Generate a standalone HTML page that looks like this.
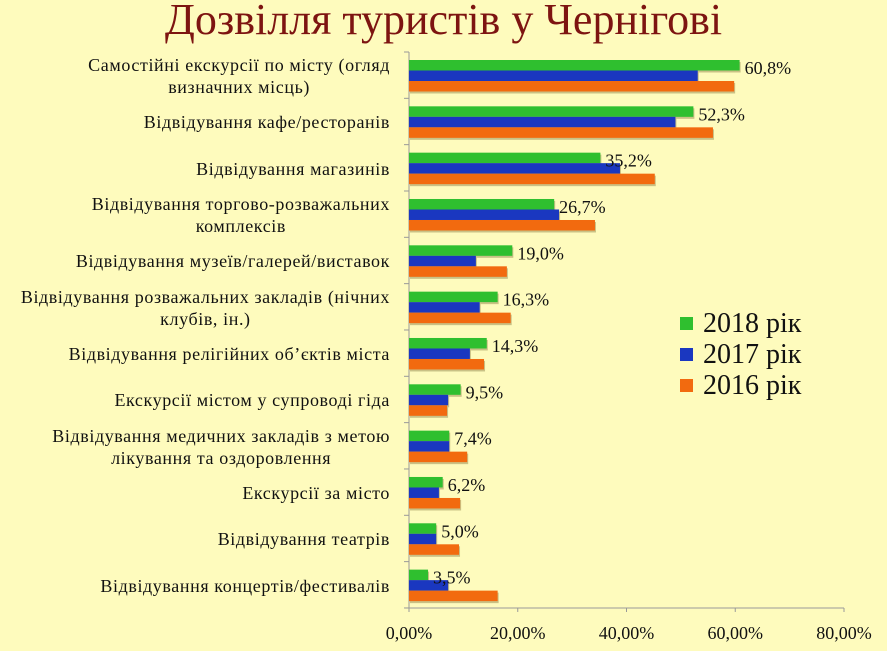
<!DOCTYPE html>
<html><head><meta charset="utf-8"><style>
body{margin:0;background:#fdfabb;}
#wrap{position:relative;width:887px;height:651px;overflow:hidden;background:#fefbbd;font-family:"Liberation Serif",serif;}
#title{position:absolute;left:0;width:887px;top:-6px;text-align:center;font-size:44px;color:#7d1411;white-space:nowrap;}
.lab{position:absolute;right:497px;display:flex;align-items:center;justify-content:flex-end;height:46px;}
.lab span{display:inline-block;text-align:center;font-size:18px;line-height:22px;color:#111;white-space:nowrap;letter-spacing:0.6px;}
#legend{position:absolute;left:680px;top:308px;font-size:28px;color:#111;}
.li{display:flex;align-items:center;height:31px;}
.sw{width:13px;height:13px;margin-right:10px;}
svg{position:absolute;left:0;top:0;}
</style></head><body>
<div id="wrap">
<div id="title">Дозвілля туристів у Чернігові</div>
<svg id="svg" width="887" height="651"></svg>
<div id="legend">
<div class="li"><div class="sw" style="background:#2fbf2f"></div>2018 рік</div>
<div class="li"><div class="sw" style="background:#1a37c0"></div>2017 рік</div>
<div class="li"><div class="sw" style="background:#f26a0f"></div>2016 рік</div>
</div>
</div>
<script>
const categories=["Самостійні екскурсії по місту (огляд<br>визначних місць)","Відвідування кафе/ресторанів","Відвідування магазинів","Відвідування торгово-розважальних<br>комплексів","Відвідування музеїв/галерей/виставок","Відвідування розважальних закладів (нічних<br>клубів, ін.)","Відвідування релігійних об’єктів міста","Екскурсії містом у супроводі гіда","Відвідування медичних закладів з метою<br>лікування та оздоровлення","Екскурсії за місто","Відвідування театрів","Відвідування концертів/фестивалів"];
const s2018=[60.8,52.3,35.2,26.7,19.0,16.3,14.3,9.5,7.4,6.2,5.0,3.5];
const s2017=[53.1,49.0,38.8,27.6,12.3,13.0,11.2,7.2,7.4,5.5,5.0,7.2];
const s2016=[59.8,55.9,45.2,34.2,18.0,18.7,13.8,7.0,10.7,9.4,9.2,16.3];
const labels2018=["60,8%","52,3%","35,2%","26,7%","19,0%","16,3%","14,3%","9,5%","7,4%","6,2%","5,0%","3,5%"];
const ticks=[0,20,40,60,80];
const tickLabels=["0,00%","20,00%","40,00%","60,00%","80,00%"];
const X0=409,X1=844,MAX=80,Y0=52,BAND=46.33;
const x=v=>X0+(v/MAX)*(X1-X0);
const yb=i=>Y0+i*BAND;
const NS="http://www.w3.org/2000/svg";
const svg=document.getElementById('svg');
function mk(t,a){const e=document.createElementNS(NS,t);for(const k in a)e.setAttribute(k,a[k]);svg.appendChild(e);return e;}
let ax=mk('line',{x1:X0,y1:Y0,x2:X0,y2:yb(12),stroke:'#999','stroke-width':1});


let xa=mk('line',{x1:X0-4,y1:yb(12),x2:X1,y2:yb(12),stroke:'#999','stroke-width':1});


for(let i=0;i<=12;i++){const t=mk('line',{x1:X0-5,x2:X0,y1:yb(i),y2:yb(i),stroke:'#999'});

}
ticks.forEach((v,i)=>{const t=mk('line',{x1:x(v),x2:x(v),y1:yb(12),y2:yb(12)+4,stroke:'#999'});


const tx=mk('text',{x:x(v),y:639,'text-anchor':'middle','font-size':18,'font-family':'Liberation Serif, serif',fill:'#111'});tx.textContent=tickLabels[i];

});
const series=[[s2018,'#2fbf2f','bar-2018'],[s2017,'#1a37c0','bar-2017'],[s2016,'#f26a0f','bar-2016']];
categories.forEach((c,i)=>{
 series.forEach((s,j)=>{const y=yb(i)+8+j*10.5;
  const sh=mk('rect',{x:X0+1,y:y+2,width:x(s[0][i])-X0,height:10.5,fill:'#8a7a40',opacity:0.45});
  
  
  const r=mk('rect',{x:X0,y:y,width:x(s[0][i])-X0,height:10.5,fill:s[1]});
  
  });
 const t=mk('text',{x:x(s2018[i])+5,y:yb(i)+22,'font-size':18,'font-family':'Liberation Serif, serif',fill:'#111'});t.textContent=labels2018[i];
 
 
 const d=document.createElement('div');d.className='lab';d.style.top=(yb(i)+1)+'px';
 
 
 d.innerHTML='<span>'+c+'</span>';document.getElementById('wrap').appendChild(d);
});
</script>
</body></html>
